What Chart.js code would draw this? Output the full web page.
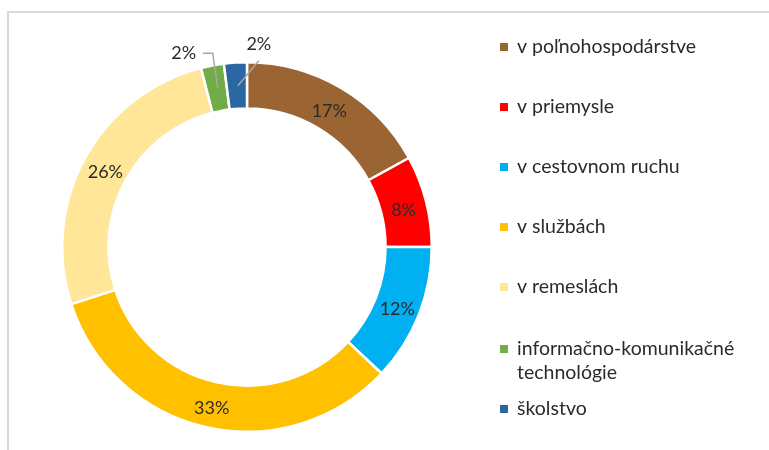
<!DOCTYPE html>
<html>
<head>
<meta charset="utf-8">
<script src="https://cdn.jsdelivr.net/npm/chart.js@4/dist/chart.umd.min.js"></script>
<style>
  html, body { margin: 0; padding: 0; background: #fff; }
  #wrap { position: relative; width: 769px; height: 450px; }
  #frame { position: absolute; left: 7px; top: 11px; width: 800px; height: 500px; border: 2px solid #d9d9d9; box-sizing: border-box; }
  canvas { position: absolute; left: 0; top: 0; }
</style>
</head>
<body>
<div id="wrap">
  <div id="frame"></div>
  <canvas id="c" width="769" height="450"></canvas>
</div>
<script>
// ---- data ----
const categories = [
  ["v poľnohospodárstve"],
  ["v priemysle"],
  ["v cestovnom ruchu"],
  ["v službách"],
  ["v remeslách"],
  ["informačno-komunikačné", "technológie"],
  ["školstvo"]
];
const shares = [17, 8, 12, 33, 26, 2, 2];
const colors = ["#9A6433", "#FF0000", "#00B0F0", "#FFC000", "#FFE699", "#70AD47", "#2B67A2"];

const FONT = "Lato, 'Open Sans', sans-serif";
const TEXT = "#2b2b2b";

const labelPlugin = {
  id: 'sliceLabels',
  afterDatasetsDraw(chart) {
    const ctx = chart.ctx;
    const meta = chart.getDatasetMeta(0);
    const total = shares.reduce((a, b) => a + b, 0);
    ctx.save();
    ctx.font = "18px " + FONT;
    ctx.fillStyle = TEXT;
    ctx.textAlign = 'center';
    ctx.textBaseline = 'middle';
    // outside label offsets for small slices (styling)
    const outside = {5: {dx: -33, dy: -35, leader: 'elbow'}, 6: {dx: 22, dy: -41, leader: 'straight'}};
    meta.data.forEach((arc, i) => {
      const p = arc.getProps(['x', 'y', 'startAngle', 'endAngle', 'innerRadius', 'outerRadius'], true);
      const mid = (p.startAngle + p.endAngle) / 2;
      const r = (p.innerRadius + p.outerRadius) / 2;
      const cx = p.x + Math.cos(mid) * r;
      const cy = p.y + Math.sin(mid) * r;
      const txt = Math.round(shares[i] / total * 100) + '%';
      if (outside[i]) {
        const o = outside[i];
        const lx = cx + o.dx, ly = cy + o.dy;
        ctx.strokeStyle = '#a6a6a6';
        ctx.lineWidth = 1.5;
        ctx.beginPath();
        if (o.leader === 'elbow') {
          ctx.moveTo(lx + 19, ly);
          ctx.lineTo(cx - 4, ly);
          ctx.lineTo(cx + 1, cy);
        } else {
          ctx.moveTo(lx, ly + 16);
          ctx.lineTo(cx + 1, cy);
        }
        ctx.stroke();
        ctx.fillText(txt, lx, ly);
      } else {
        ctx.fillText(txt, cx, cy + 3);
      }
    });
    ctx.restore();
  }
};

const legendPlugin = {
  id: 'sideLegend',
  afterDraw(chart) {
    const ctx = chart.ctx;
    ctx.save();
    ctx.font = "19.5px " + FONT;
    ctx.fillStyle = TEXT;
    ctx.textAlign = 'left';
    ctx.textBaseline = 'middle';
    const x0 = 500, y0 = 47, step = 60, lineH = 24;
    categories.forEach((lines, i) => {
      const y = y0 + step * i + (i >= 5 ? 2 : 0);
      ctx.fillStyle = colors[i];
      ctx.fillRect(x0, y - 4, 8, 8);
      ctx.fillStyle = TEXT;
      lines.forEach((t, j) => ctx.fillText(t, x0 + 17, y + j * lineH));
    });
    ctx.restore();
  }
};

new Chart(document.getElementById('c'), {
  type: 'doughnut',
  data: {
    labels: categories.map(l => l.join(' ')),
    datasets: [{
      data: shares,
      backgroundColor: colors,
      borderColor: '#ffffff',
      borderWidth: 2.5
    }]
  },
  options: {
    responsive: false,
    animation: false,
    cutout: '75%',
    layout: { padding: { left: 61, right: 336, top: 61, bottom: 17 } },
    plugins: { legend: { display: false }, tooltip: { enabled: false } }
  },
  plugins: [labelPlugin, legendPlugin]
});
</script>
</body>
</html>
